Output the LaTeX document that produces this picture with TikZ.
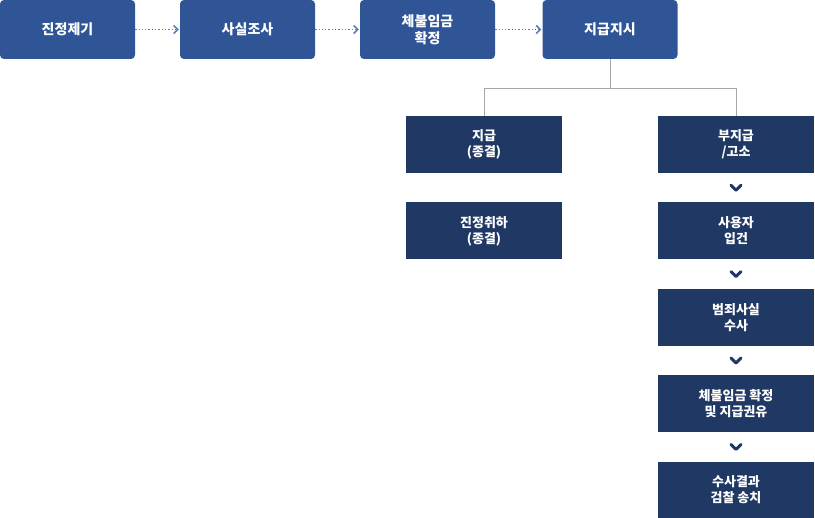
\documentclass[tikz,border=0pt]{standalone}
\usepackage{fontspec}
\setmainfont{Noto Sans CJK KR}
\usetikzlibrary{positioning, arrows.meta, calc}
\definecolor{stageblue}{HTML}{2F5597}
\definecolor{resnavy}{HTML}{1F3864}
\definecolor{dotline}{HTML}{5B7FB4}

\begin{document}
\begin{tikzpicture}
	[x=1pt, y=-1pt,
	 stage/.style={fill=stageblue, rounded corners=4pt, minimum width=135pt, minimum height=59pt,
	   text=white, font=\fontsize{14}{17}\selectfont\bfseries, align=center, inner sep=0pt},
	 res/.style={fill=resnavy, minimum width=156pt, minimum height=57pt,
	   text=white, font=\fontsize{13}{16}\selectfont\bfseries, align=center, inner sep=0pt},
	 flow/.style={dotline, line width=1.3pt, dotted, -{Straight Barb[length=4pt, width=8pt, line width=1.6pt]}, shorten >=1pt},
	 link/.style={gray!70, line width=0.8pt},
	 chev/.style={resnavy, line width=3pt, line cap=round, line join=round}]
   \useasboundingbox (0,0) rectangle (815,518);
   \node[stage] (s_1) at (67.5,29.5) {진정제기};
   \node[stage] (s_2) at (247.5,29.5) {사실조사};
   \node[stage] (s_3) at (427.5,29.5) {체불임금\\확정};
   \node[stage] (s_4) at (610,29.5) {지급지시};
   \node[res] (pay) at (484,144.5) {지급\\(종결)};
   \node[res] (drop) [below=29pt of pay] {진정취하\\(종결)};
   \node[res] (r_1) at (736,144.5) {부지급\\/고소};
   \node[res] (r_2) [below=29pt of r_1] {사용자\\입건};
   \node[res] (r_3) [below=29pt of r_2] {범죄사실\\수사};
   \node[res] (r_4) [below=29pt of r_3] {체불임금 확정\\및 지급권유};
   \node[res] (r_5) [below=29pt of r_4] {수사결과\\검찰 송치};
   \draw[flow] (s_1) -- (s_2);
   \draw[flow] (s_2) -- (s_3);
   \draw[flow] (s_3) -- (s_4);
   \coordinate (split) at (610,88);
   \draw[link] (s_4.south) -- (split) -| (pay.north);
   \draw[link] (split) -| (r_1.north);
   \foreach \a/\b in {r_1/r_2, r_2/r_3, r_3/r_4, r_4/r_5} {
     \coordinate (mid) at ($(\a.south)!0.5!(\b.north)$);
     \draw[chev] ([xshift=-5pt, yshift=2.5pt]mid) -- ([yshift=-2.5pt]mid) -- ([xshift=5pt, yshift=2.5pt]mid);
   }
\end{tikzpicture}
\end{document}
